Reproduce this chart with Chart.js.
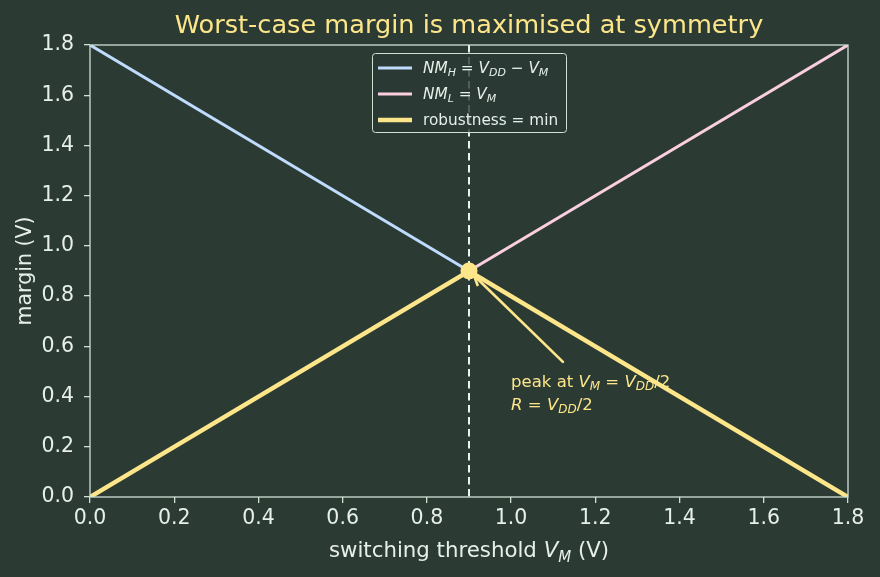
<!DOCTYPE html>
<html><head><meta charset="utf-8">
<script src="https://cdn.jsdelivr.net/npm/chart.js@4.4.0/dist/chart.umd.min.js"></script>
<style>html,body{margin:0;padding:0;background:#2b3a33;}#wrap{width:880px;height:577px;}</style>
</head><body><div id="wrap"><canvas id="c" width="880" height="577"></canvas></div>
<script>
const vm = [0, 0.9, 1.8];
const nmH = [1.8, 0.9, 0.0];
const nmL = [0.0, 0.9, 1.8];
const robust = [0.0, 0.9, 0.0];
const peak = {x: 0.9, y: 0.9};
const symLine = 0.9;
const xTicks = [0, 0.2, 0.4, 0.6, 0.8, 1.0, 1.2, 1.4, 1.6, 1.8];
const yTicks = [0, 0.2, 0.4, 0.6, 0.8, 1.0, 1.2, 1.4, 1.6, 1.8];
const arrowTail = {x: 1.123, y: 0.538};
const arrowHead = {x: 0.912, y: 0.882};
const annotPos = {x: 1.0, y: 0.44};
const titleText = "Worst-case margin is maximised at symmetry";

const BG = '#2b3a33', FG = '#e6efe9', SPINE = '#cfe0d6', YEL = '#fde68a', BLUE = '#bfdbfe', PINK = '#fbcfe0';
const FONT = "'DejaVu Sans', sans-serif";

const pts = arr => vm.map((x, i) => ({x, y: arr[i]}));

function fontFor(k, size) {
  if (k === 'n') return `${size}px ${FONT}`;
  if (k === 'i') return `italic ${size}px ${FONT}`;
  return `italic ${Math.round(size * 0.7)}px ${FONT}`;
}
function richWidth(ctx, segs, size) {
  let w = 0;
  for (const [t, k] of segs) { ctx.font = fontFor(k, size); w += ctx.measureText(t).width; }
  return w;
}
function drawRich(ctx, segs, x, y, size, color, align) {
  ctx.save();
  ctx.fillStyle = color; ctx.textBaseline = 'alphabetic'; ctx.textAlign = 'left';
  let w = richWidth(ctx, segs, size);
  let cx = align === 'center' ? x - w / 2 : x;
  for (const [t, k] of segs) {
    ctx.font = fontFor(k, size);
    ctx.fillText(t, cx, k === 's' ? y + size * 0.22 : y);
    cx += ctx.measureText(t).width;
  }
  ctx.restore();
}

const deco = {
  id: 'deco',
  beforeDraw(chart) {
    const ctx = chart.ctx;
    ctx.save(); ctx.fillStyle = BG; ctx.fillRect(0, 0, chart.width, chart.height); ctx.restore();
  },
  beforeDatasetsDraw(chart) {
    const ctx = chart.ctx, xs = chart.scales.x, a = chart.chartArea;
    const px = xs.getPixelForValue(symLine);
    ctx.save();
    ctx.strokeStyle = '#e6f3ee'; ctx.lineWidth = 2; ctx.setLineDash([7.5, 4.5]);
    ctx.beginPath(); ctx.moveTo(px, a.top); ctx.lineTo(px, a.bottom); ctx.stroke();
    ctx.restore();
  },
  afterDatasetsDraw(chart) {
    const ctx = chart.ctx, xs = chart.scales.x, ys = chart.scales.y, a = chart.chartArea;
    ctx.save();
    ctx.strokeStyle = SPINE; ctx.lineWidth = 1.3;
    ctx.strokeRect(a.left, a.top, a.right - a.left, a.bottom - a.top);
    ctx.restore();
    const tx = xs.getPixelForValue(arrowTail.x), ty = ys.getPixelForValue(arrowTail.y);
    const hx = xs.getPixelForValue(arrowHead.x), hy = ys.getPixelForValue(arrowHead.y);
    ctx.save();
    ctx.strokeStyle = YEL; ctx.lineWidth = 2.7; ctx.lineCap = 'round';
    ctx.beginPath(); ctx.moveTo(tx, ty); ctx.lineTo(hx, hy); ctx.stroke();
    const ang = Math.atan2(hy - ty, hx - tx), L = 10, sp = 0.45;
    ctx.beginPath();
    ctx.moveTo(hx - L * Math.cos(ang - sp), hy - L * Math.sin(ang - sp));
    ctx.lineTo(hx, hy);
    ctx.lineTo(hx - L * Math.cos(ang + sp), hy - L * Math.sin(ang + sp));
    ctx.stroke();
    ctx.restore();
    const ax = xs.getPixelForValue(annotPos.x), ay = ys.getPixelForValue(annotPos.y);
    drawRich(ctx, [['peak at ', 'n'], ['V', 'i'], ['M', 's'], [' = ', 'n'], ['V', 'i'], ['DD', 's'], ['/2', 'n']], ax, ay, 16.5, YEL);
    drawRich(ctx, [['R', 'i'], [' = ', 'n'], ['V', 'i'], ['DD', 's'], ['/2', 'n']], ax, ay + 23, 16.5, YEL);
    const lx = 372, ly = 53, lw = 194, lh = 79;
    ctx.save();
    ctx.fillStyle = 'rgba(43,58,51,0.8)'; ctx.strokeStyle = SPINE; ctx.lineWidth = 1;
    ctx.beginPath(); ctx.roundRect(lx + 0.5, ly + 0.5, lw, lh, 3); ctx.fill(); ctx.stroke();
    const items = [
      [BLUE, 3, [['NM', 'i'], ['H', 's'], [' = ', 'n'], ['V', 'i'], ['DD', 's'], [' − ', 'n'], ['V', 'i'], ['M', 's']]],
      [PINK, 3, [['NM', 'i'], ['L', 's'], [' = ', 'n'], ['V', 'i'], ['M', 's']]],
      [YEL, 4.5, [['robustness = min', 'n']]]
    ];
    items.forEach(([c, w, segs], i) => {
      const yy = ly + 15 + i * 26;
      ctx.strokeStyle = c; ctx.lineWidth = w; ctx.setLineDash([]);
      ctx.beginPath(); ctx.moveTo(378, yy); ctx.lineTo(412, yy); ctx.stroke();
      drawRich(ctx, segs, 423, yy + 5, 15.3, FG);
    });
    ctx.restore();
  },
  afterDraw(chart) {
    const ctx = chart.ctx, a = chart.chartArea;
    const cx = (a.left + a.right) / 2;
    ctx.save();
    ctx.fillStyle = YEL; ctx.font = `25.6px ${FONT}`; ctx.textAlign = 'center'; ctx.textBaseline = 'alphabetic';
    ctx.fillText(titleText, cx, 33);
    ctx.restore();
    drawRich(ctx, [['switching threshold ', 'n'], ['V', 'i'], ['M', 's'], [' (V)', 'n']], cx, 557, 21.3, FG, 'center');
    ctx.save();
    ctx.translate(31, (a.top + a.bottom) / 2); ctx.rotate(-Math.PI / 2);
    ctx.fillStyle = FG; ctx.font = `20.5px ${FONT}`; ctx.textAlign = 'center'; ctx.textBaseline = 'alphabetic';
    ctx.fillText('margin (V)', 0, 0);
    ctx.restore();
  }
};

const tickFont = {family: FONT, size: 20.5};
const fmt = v => Number(v).toFixed(1);
const gridOpts = {drawOnChartArea: false, drawTicks: true, tickLength: 6, color: SPINE, lineWidth: 1.3};

new Chart(document.getElementById('c'), {
  type: 'line',
  data: {
    datasets: [
      {label: 'NM_H', data: pts(nmH), borderColor: BLUE, borderWidth: 3, pointRadius: 0, order: 3},
      {label: 'NM_L', data: pts(nmL), borderColor: PINK, borderWidth: 3, pointRadius: 0, order: 2},
      {label: 'robustness', data: pts(robust), borderColor: YEL, borderWidth: 4.5, pointRadius: 0, order: 1},
      {label: 'peak', data: [peak], borderColor: YEL, backgroundColor: YEL, pointRadius: 8.5, pointBorderWidth: 0, showLine: false, order: 0}
    ]
  },
  options: {
    responsive: false, animation: false, devicePixelRatio: 1,
    layout: {padding: {left: 0, right: 32, top: 45, bottom: 0}},
    plugins: {legend: {display: false}, tooltip: {enabled: false}, title: {display: false}},
    elements: {line: {tension: 0, borderCapStyle: 'round'}},
    scales: {
      x: {type: 'linear', min: 0, max: 1.8, grid: gridOpts, border: {display: false},
          ticks: {color: FG, font: tickFont, padding: 3, callback: fmt, autoSkip: false, maxRotation: 0},
          afterBuildTicks: s => { s.ticks = xTicks.map(v => ({value: v})); },
          afterFit: s => { s.height = 80; }},
      y: {type: 'linear', min: 0, max: 1.8, grid: gridOpts, border: {display: false},
          ticks: {color: FG, font: tickFont, padding: 10, callback: fmt, autoSkip: false},
          afterBuildTicks: s => { s.ticks = yTicks.map(v => ({value: v})); },
          afterFit: s => { s.width = 90; }}
    }
  },
  plugins: [deco]
});
</script></body></html>
